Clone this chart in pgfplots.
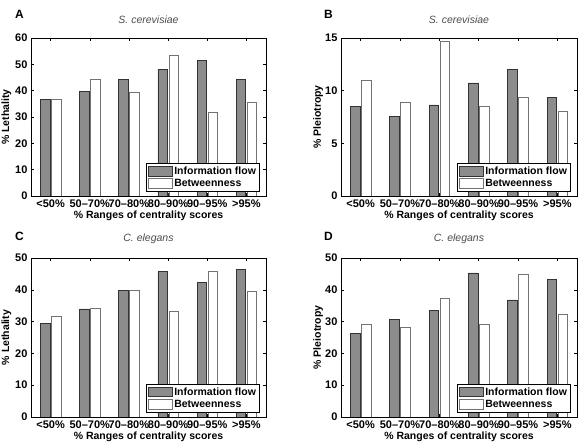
\documentclass[border=0pt]{standalone}
\usepackage{fontspec}
\setmainfont{Liberation Sans}
\usepackage{pgfplots}
\pgfplotsset{compat=1.18}
\definecolor{barG}{HTML}{8C8C8C}
\pgfplotsset{
  panel/.style={
    scale only axis,
    anchor=south west,
    ybar=1.5pt,
    bar width=9.5pt,
    xmin=0.5, xmax=6.5,
    ymin=0,
    xtick={1,2,3,4,5,6},
    xticklabels={{<50\%},{50--70\%},{70--80\%},{80--90\%},{90--95\%},{>95\%}},
    tick align=inside,
    major tick length=3pt,
    tick style={black, line width=0.4pt},
    axis line style={black, line width=0.6pt},
    /pgf/number format/assume math mode=true,
    tick label style={font=\fontsize{11}{12}\selectfont\bfseries},
    label style={font=\fontsize{10.5}{12}\selectfont\bfseries},
    title style={font=\fontsize{10.5}{12}\selectfont\itshape, text=black!70, yshift=5pt},
    xlabel={\% Ranges of centrality scores},
    xlabel style={at={(axis description cs:0.5,0)}, anchor=base, yshift=-22.5pt},
    legend cell align=left,
    legend style={at={(0.974,0.025)}, anchor=south east, draw=black, line width=0.9pt,
      fill=white, font=\fontsize{10.5}{12}\selectfont\bfseries, inner sep=1.5pt,
      row sep=-0.5pt},
    legend image code/.code={\draw[#1, line width=0.6pt] (0pt,-4.5pt) rectangle (24pt,5pt);},
  },
  gbar/.style={fill=barG, draw=black!80, line width=0.6pt},
  wbar/.style={fill=white, draw=black!55, line width=0.6pt},
}
\begin{document}
\begin{tikzpicture}
\path[use as bounding box] (0pt,0pt) rectangle (580pt,443pt);
% Panel A
\begin{axis}[panel, at={(31pt,247pt)}, width=235pt, height=158pt,
  ymax=60, ytick={0,10,...,60}, ylabel={\% Lethality}, title={S. cerevisiae},
  ylabel style={at={(axis description cs:-0.105,0.5)}, anchor=center}]
\addplot[gbar] coordinates {(1,36.6) (2,39.8) (3,44.2) (4,48.2) (5,51.4) (6,44.2)};
\addplot[wbar] coordinates {(1,36.6) (2,44.4) (3,39.3) (4,53.3) (5,31.6) (6,35.7)};
\legend{Information flow, Betweenness}
\end{axis}
% Panel B
\begin{axis}[panel, at={(341pt,247pt)}, width=236pt, height=158pt,
  ymax=15, ytick={0,5,10,15}, ylabel={\% Pleiotropy}, title={S. cerevisiae},
  ylabel style={at={(axis description cs:-0.097,0.5)}, anchor=center}]
\addplot[gbar] coordinates {(1,8.49) (2,7.58) (3,8.65) (4,10.74) (5,12.0) (6,9.35)};
\addplot[wbar] coordinates {(1,10.96) (2,8.94) (3,14.68) (4,8.49) (5,9.35) (6,8.02)};
\legend{Information flow, Betweenness}
\end{axis}
% Panel C
\begin{axis}[panel, at={(31pt,26pt)}, width=235pt, height=159pt,
  ymax=50, ytick={0,10,...,50}, ylabel={\% Lethality}, title={C. elegans},
  ylabel style={at={(axis description cs:-0.105,0.5)}, anchor=center}]
\addplot[gbar] coordinates {(1,29.4) (2,34.0) (3,39.9) (4,45.8) (5,42.3) (6,46.3)};
\addplot[wbar] coordinates {(1,31.8) (2,34.3) (3,39.9) (4,33.2) (5,45.8) (6,39.4)};
\legend{Information flow, Betweenness}
\end{axis}
% Panel D
\begin{axis}[panel, at={(341pt,26pt)}, width=236pt, height=159pt,
  ymax=50, ytick={0,10,...,50}, ylabel={\% Pleiotropy}, title={C. elegans},
  ylabel style={at={(axis description cs:-0.097,0.5)}, anchor=center}]
\addplot[gbar] coordinates {(1,26.3) (2,30.7) (3,33.6) (4,45.3) (5,36.8) (6,43.2)};
\addplot[wbar] coordinates {(1,29.1) (2,28.2) (3,37.3) (4,29.1) (5,44.9) (6,32.2)};
\legend{Information flow, Betweenness}
\end{axis}
\node[anchor=base west, inner sep=0, font=\fontsize{12}{14}\selectfont\bfseries] at (15pt,424pt) {A};
\node[anchor=base west, inner sep=0, font=\fontsize{12}{14}\selectfont\bfseries] at (324pt,424pt) {B};
\node[anchor=base west, inner sep=0, font=\fontsize{12}{14}\selectfont\bfseries] at (15pt,202pt) {C};
\node[anchor=base west, inner sep=0, font=\fontsize{12}{14}\selectfont\bfseries] at (324pt,202pt) {D};
\end{tikzpicture}
\end{document}
